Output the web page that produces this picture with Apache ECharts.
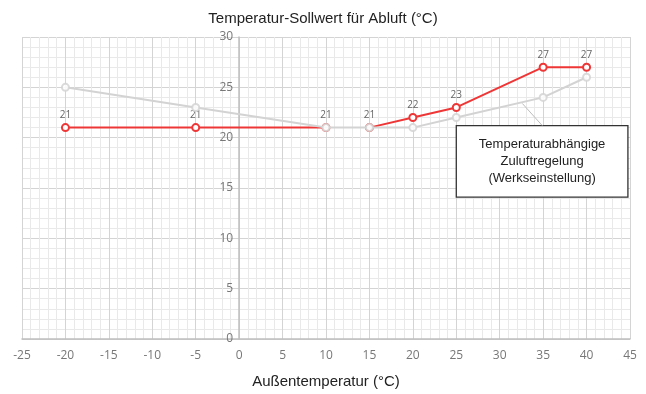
<!DOCTYPE html>
<html>
<head>
<meta charset="utf-8">
<script src="https://cdn.jsdelivr.net/npm/echarts@6/dist/echarts.min.js"></script>
<style>
html,body{margin:0;padding:0;background:#fff;}
#chart{width:646px;height:394px;}
</style>
</head>
<body>
<div id="chart"></div>
<script>
// ---- data ----
const outdoorTemps = [-20, -5, 10, 15, 20, 25, 35, 40];
const exhaustSetpoint = [21, 21, 21, 21, 22, 23, 27, 27];   // red, labelled
const supplySetpoint = [25, 23, 21, 21, 21, 22, 24, 26];    // grey
const exhaustBreakAfter = 10; // red line interrupted between 10 and 15
const xTicks = { min: -25, max: 45, step: 5 };
const yTicks = { min: 0, max: 30, step: 5 };
const titleText = 'Temperatur-Sollwert für Abluft (°C)';
const xAxisTitle = 'Außentemperatur (°C)';
const calloutText = ['Temperaturabhängige', 'Zuluftregelung', '(Werkseinstellung)'];
const calloutBox = [[25.0, 21.2], [44.76, 14.1]];
const calloutLeader = [[32.6, 23.4], [34.9, 21.2]];

const redLow = [], redHigh = [], grey = [];
outdoorTemps.forEach((x, i) => {
  (x <= exhaustBreakAfter ? redLow : redHigh).push([x, exhaustSetpoint[i]]);
  grey.push([x, supplySetpoint[i]]);
});

const RED = '#ef3636';
const GREY = '#d3d3d3';
const FONT = '"Liberation Sans", Arial, sans-serif';
const W = 646, GL = 22, GR = 16;
// y axis sits at x = 0: shift it from the left edge of the grid
const yAxisOffset = -(W - GL - GR) * (0 - xTicks.min) / (xTicks.max - xTicks.min);

function redSeries(data) {
  return {
    type: 'line', data: data, z: 3,
    symbol: 'emptyCircle', symbolSize: 7,
    lineStyle: { color: RED, width: 2 },
    itemStyle: { color: RED, borderColor: RED, borderWidth: 1.5 },
    label: { show: true, position: 'top', distance: 3, color: '#666', fontSize: 10, fontFamily: '"Open Sans", sans-serif' },
    silent: true, animation: false
  };
}

const chart = echarts.init(document.getElementById('chart'), null, { renderer: 'canvas' });
chart.setOption({
  animation: false,
  backgroundColor: '#fff',
  title: {
    text: titleText, left: 'center', top: 6,
    textStyle: { fontSize: 15, fontWeight: 'normal', color: '#222', fontFamily: FONT }
  },
  grid: { left: GL, right: GR, top: 37, bottom: 54, containLabel: false },
  xAxis: {
    type: 'value', min: xTicks.min, max: xTicks.max, interval: xTicks.step,
    name: xAxisTitle, nameLocation: 'middle', nameGap: 35,
    nameTextStyle: { fontSize: 15, color: '#222', fontFamily: FONT },
    axisLine: { show: true, lineStyle: { color: '#bfbfbf', width: 1.5 } },
    axisTick: { show: false },
    axisLabel: { color: '#777', fontSize: 12, margin: 11, fontFamily: '"Open Sans", sans-serif' },
    splitLine: { show: true, lineStyle: { color: '#d4d4d4', width: 1 } },
    minorTick: { show: false, splitNumber: 5 },
    minorSplitLine: { show: true, lineStyle: { color: '#e9e9e9', width: 1 } }
  },
  yAxis: {
    type: 'value', min: yTicks.min, max: yTicks.max, interval: yTicks.step,
    position: 'left', offset: yAxisOffset,
    axisLine: { show: true, onZero: false, lineStyle: { color: '#bfbfbf', width: 1.5 } },
    axisTick: { show: false },
    axisLabel: { color: '#777', fontSize: 12, margin: 6, fontFamily: '"Open Sans", sans-serif' },
    splitLine: { show: true, lineStyle: { color: '#d4d4d4', width: 1 } },
    minorTick: { show: false, splitNumber: 5 },
    minorSplitLine: { show: true, lineStyle: { color: '#e9e9e9', width: 1 } }
  },
  series: [
    redSeries(redLow),
    redSeries(redHigh),
    {
      type: 'line', data: grey, z: 4,
      symbol: 'emptyCircle', symbolSize: 7,
      lineStyle: { color: GREY, width: 2 },
      itemStyle: { color: GREY, borderColor: GREY, borderWidth: 1.5, opacity: 0.85 },
      silent: true, animation: false,
      markLine: {
        silent: true, symbol: 'none', animation: false,
        lineStyle: { color: '#bdbdbd', width: 1, type: 'solid' },
        label: { show: false },
        data: [[{ coord: calloutLeader[0] }, { coord: calloutLeader[1] }]]
      },
      markArea: {
        silent: true, animation: false,
        itemStyle: { color: '#fff', borderColor: '#333', borderWidth: 1.3, opacity: 1 },
        label: {
          show: true, position: 'inside', formatter: calloutText.join('\n'),
          color: '#222', fontSize: 13, lineHeight: 17, fontFamily: FONT, align: 'center'
        },
        data: [[{ coord: calloutBox[0] }, { coord: calloutBox[1] }]]
      }
    }
  ]
});
</script>
</body>
</html>
